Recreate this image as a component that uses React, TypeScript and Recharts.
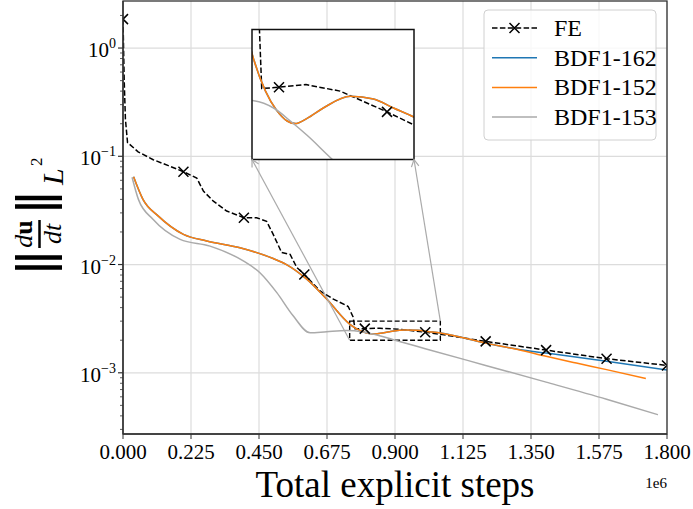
import React from "react";
import {
  LineChart,
  Line,
  XAxis,
  YAxis,
  CartesianGrid,
  ReferenceLine,
  ReferenceArea
} from "recharts";

const SERIF = '"Liberation Serif", "Times New Roman", serif';

// FE (forward Euler) residual norm vs total explicit steps
const FE_STEPS = [0, 4000, 8000, 15000, 50000, 100000, 150000, 200000, 244000, 266000, 299000, 343000, 400000, 442000, 475000, 497000, 525000, 553000, 575000, 600000, 652000, 696000, 745000, 761000, 768000, 800000, 850000, 913000, 1000000, 1050000, 1200000, 1400000, 1600000, 1800000];
const FE_NORM = [1.85, 0.5, 0.22, 0.134, 0.11, 0.093, 0.082, 0.072, 0.063, 0.0477, 0.0385, 0.0312, 0.0271, 0.0271, 0.0251, 0.019, 0.0129, 0.0124, 0.0094, 0.0081, 0.0057, 0.0048, 0.0041, 0.0033, 0.00255, 0.00256, 0.00258, 0.00253, 0.00237, 0.00227, 0.00195, 0.00162, 0.00135, 0.00117];
const FE_MARK_EVERY = 200000;

const B152_STEPS = [35000, 66000, 117000, 200000, 277000, 387000, 497000, 541000, 608000, 674000, 750000, 775000, 796000, 815000, 830000, 852000, 882000, 932000, 975000, 1012000, 1050000, 1200000, 1310000, 1400000, 1500000, 1600000, 1730000];
const B152_NORM = [0.0646, 0.04, 0.028, 0.019, 0.0165, 0.0143, 0.01136, 0.01, 0.00733, 0.0048, 0.00282, 0.00253, 0.00238, 0.0023, 0.00228, 0.00232, 0.0024, 0.00249, 0.00247, 0.0024, 0.00233, 0.00188, 0.00163, 0.00142, 0.00123, 0.00107, 0.000886];

const B162_STEPS = [35000, 66000, 117000, 200000, 277000, 387000, 497000, 541000, 608000, 674000, 750000, 775000, 796000, 815000, 830000, 852000, 882000, 932000, 975000, 1012000, 1050000, 1200000, 1310000, 1400000, 1600000, 1800000];
const B162_NORM = [0.0646, 0.04, 0.028, 0.019, 0.0165, 0.0143, 0.01136, 0.01, 0.00733, 0.0048, 0.00282, 0.00253, 0.00238, 0.0023, 0.00228, 0.00232, 0.0024, 0.00249, 0.00247, 0.0024, 0.00233, 0.00188, 0.00164, 0.00152, 0.00128, 0.00106];

const B153_STEPS = [30000, 51000, 100000, 189000, 288000, 398000, 453000, 509000, 563000, 619000, 674000, 740000, 790000, 821000, 852000, 900000, 1000000, 1200000, 1400000, 1600000, 1770000];
const B153_NORM = [0.064, 0.04, 0.0261, 0.0171, 0.0148, 0.0108, 0.0084, 0.0055, 0.00336, 0.00234, 0.0024, 0.00246, 0.0024, 0.0023, 0.00219, 0.002, 0.00167, 0.00117, 0.00082, 0.00057, 0.00041];

const X_TICKS = [0, 225000, 450000, 675000, 900000, 1125000, 1350000, 1575000, 1800000];
const Y_DECADES = [1e-4, 1e-3, 1e-2, 1e-1, 1];
const Y_MINOR_MULT = [1, 2, 3, 4, 5, 6, 7, 8, 9];
const Y_MIN = 2.72e-4;
const Y_MAX = 2.72;
const X_MAX = 1800000;

const INSET_X = [750000, 1050000];
const INSET_Y = [0.002, 0.003];

const SERIES = [
  { name: "FE", color: "#000000", steps: FE_STEPS, norm: FE_NORM, dashed: true },
  { name: "BDF1-162", color: "#1f77b4", steps: B162_STEPS, norm: B162_NORM, dashed: false },
  { name: "BDF1-152", color: "#ff7f0e", steps: B152_STEPS, norm: B152_NORM, dashed: false },
  { name: "BDF1-153", color: "#aaaaaa", steps: B153_STEPS, norm: B153_NORM, dashed: false }
];

const toRows = (steps: number[], norm: number[]) => steps.map((x, i) => ({ x, y: norm[i] }));

const Y_TICKS = Y_DECADES.flatMap((d) => Y_MINOR_MULT.map((m) => m * d)).filter(
  (v) => v >= Y_MIN && v <= Y_MAX
);

// plot box of main chart (page pixels)
const PLOT = { left: 123, top: 1, right: 667, bottom: 434 };
const xPx = (v: number) => PLOT.left + (v / X_MAX) * (PLOT.right - PLOT.left);
const yPx = (v: number) =>
  PLOT.top +
  ((Math.log10(Y_MAX) - Math.log10(v)) / (Math.log10(Y_MAX) - Math.log10(Y_MIN))) *
    (PLOT.bottom - PLOT.top);

const INSET = { left: 252, top: 29.5, width: 162, height: 130 };

const XDot = (props: any) => {
  const { cx, cy, payload, index } = props;
  if (cx == null || cy == null || payload.x % FE_MARK_EVERY !== 0) return <g key={index} />;
  const r = 5;
  return (
    <path
      key={index}
      d={`M${cx - r},${cy - r}L${cx + r},${cy + r}M${cx - r},${cy + r}L${cx + r},${cy - r}`}
      stroke="#000"
      strokeWidth={1.5}
      fill="none"
    />
  );
};

const LogTick = (props: any) => {
  const { x, y, payload } = props;
  const lg = Math.log10(payload.value);
  const exp = Math.round(lg);
  const major = Math.abs(lg - exp) < 1e-6;
  return (
    <g>
      <line x1={x - (major ? 5 : 3)} x2={x} y1={y} y2={y} stroke="#333" strokeWidth={major ? 1.2 : 0.8} />
      {major && (
        <text x={x - 7} y={y + 9} textAnchor="end" fontSize={21} fontFamily={SERIF} fill="#000">
          10
          <tspan dy={-9} fontSize={14}>
            {exp < 0 ? `\u2212${-exp}` : `${exp}`}
          </tspan>
        </text>
      )}
    </g>
  );
};

function seriesLines() {
  return SERIES.map((s) => (
    <Line
      key={s.name}
      data={toRows(s.steps, s.norm)}
      dataKey="y"
      type={s.dashed ? "linear" : "monotone"}
      stroke={s.color}
      strokeWidth={1.5}
      strokeDasharray={s.dashed ? "5.5 2.4" : undefined}
      dot={s.dashed ? XDot : false}
      activeDot={false}
      isAnimationActive={false}
      name={s.name}
    />
  ));
}

function arrowHead(tx: number, ty: number, rx: number, ry: number) {
  const len = Math.hypot(rx - tx, ry - ty);
  const ux = (rx - tx) / len;
  const uy = (ry - ty) / len;
  const a = (28 * Math.PI) / 180;
  const L = 8;
  const p = (s: number) => [
    tx + L * (ux * Math.cos(s * a) - uy * Math.sin(s * a)),
    ty + L * (ux * Math.sin(s * a) + uy * Math.cos(s * a))
  ];
  const [ax, ay] = p(1);
  const [bx, by] = p(-1);
  return `M${ax},${ay}L${tx},${ty}L${bx},${by}`;
}

export default function App() {
  const rectBL = { x: xPx(INSET_X[0]), y: yPx(INSET_Y[0]) };
  const rectTR = { x: xPx(INSET_X[1]), y: yPx(INSET_Y[1]) };
  const insBL = { x: INSET.left, y: INSET.top + INSET.height };
  const insBR = { x: INSET.left + INSET.width, y: INSET.top + INSET.height };

  return (
    <div style={{ position: "absolute", left: 0, top: 0, width: 693, height: 509, background: "#fff" }}>
      <LineChart width={693} height={509} margin={{ top: 1, right: 26, left: 0, bottom: 0 }}>
        <CartesianGrid horizontal={false} stroke="#dcdcdc" strokeWidth={1.2} />
        {Y_DECADES.filter((v) => v >= Y_MIN && v <= Y_MAX).map((v) => (
          <ReferenceLine key={v} y={v} stroke="#dcdcdc" strokeWidth={1.2} />
        ))}
        <XAxis
          dataKey="x"
          type="number"
          domain={[0, X_MAX]}
          ticks={X_TICKS}
          allowDataOverflow
          height={75}
          tickSize={5}
          tickMargin={5}
          tickFormatter={(v: number) => (v / 1e6).toFixed(3)}
          tick={{ fontSize: 21, fontFamily: SERIF, fill: "#000" }}
          tickLine={{ stroke: "#333" }}
          axisLine={{ stroke: "#333", strokeWidth: 1.3 }}
        />
        <YAxis
          type="number"
          scale="log"
          domain={[Y_MIN, Y_MAX]}
          ticks={Y_TICKS}
          allowDataOverflow
          width={123}
          tickSize={0}
          tickMargin={0}
          tickLine={false}
          tick={LogTick}
          interval={0}
          axisLine={{ stroke: "#333", strokeWidth: 1.3 }}
        />
        <ReferenceArea
          x1={INSET_X[0]}
          x2={INSET_X[1]}
          y1={INSET_Y[0]}
          y2={INSET_Y[1]}
          fill="none"
          fillOpacity={0}
          stroke="#000"
          strokeWidth={1.4}
          strokeDasharray="5 2.5"
          ifOverflow="visible"
        />
        {seriesLines()}
      </LineChart>

      <div
        style={{
          position: "absolute",
          left: INSET.left,
          top: INSET.top,
          width: INSET.width,
          height: INSET.height,
          background: "#fff"
        }}
      >
        <LineChart width={INSET.width} height={INSET.height} margin={{ top: 0, right: 0, left: 0, bottom: 0 }}>
          <XAxis dataKey="x" type="number" domain={INSET_X} allowDataOverflow hide />
          <YAxis type="number" domain={INSET_Y} allowDataOverflow hide />
          {seriesLines()}
        </LineChart>
      </div>

      <svg
        width={693}
        height={509}
        style={{ position: "absolute", left: 0, top: 0, pointerEvents: "none" }}
      >
        {/* frame */}
        <rect
          x={PLOT.left}
          y={PLOT.top}
          width={PLOT.right - PLOT.left}
          height={PLOT.bottom - PLOT.top}
          fill="none"
          stroke="#333"
          strokeWidth={1.3}
        />
        {/* inset frame */}
        <rect x={INSET.left} y={INSET.top} width={INSET.width} height={INSET.height} fill="none" stroke="#111" strokeWidth={1.5} />
        {/* connectors */}
        <g stroke="#aaaaaa" strokeWidth={1.2} fill="none">
          <line x1={insBL.x} y1={insBL.y} x2={rectBL.x} y2={rectBL.y} />
          <line x1={insBR.x} y1={insBR.y} x2={rectTR.x} y2={rectTR.y} />
          <path d={arrowHead(insBL.x, insBL.y, rectBL.x, rectBL.y)} />
          <path d={arrowHead(insBR.x, insBR.y, rectTR.x, rectTR.y)} />
        </g>

        {/* axis labels */}
        <text x={395} y={497} textAnchor="middle" fontSize={37} fontFamily={SERIF} fill="#000">
          Total explicit steps
        </text>
        <text x={667} y={488} textAnchor="end" fontSize={15} fontFamily={SERIF} fill="#000">
          1e6
        </text>
        <g transform="translate(40,210) rotate(-90)" fontFamily={SERIF} fill="#000">
          <rect x={-59.75} y={-25} width={4.5} height={47} />
          <rect x={-49.75} y={-25} width={4.5} height={47} />
          <text x={-24} y={-8} textAnchor="middle" fontSize={26}>
            <tspan fontStyle="italic">d</tspan>
            <tspan fontWeight="bold">u</tspan>
          </text>
          <rect x={-38} y={-1.75} width={28} height={2.5} />
          <text x={-24} y={21} textAnchor="middle" fontSize={26} fontStyle="italic">
            dt
          </text>
          <rect x={1.25} y={-25} width={4.5} height={47} />
          <rect x={9.75} y={-25} width={4.5} height={47} />
          <text x={25} y={23} fontSize={30} fontStyle="italic">
            L
          </text>
          <text x={44} y={1.5} fontSize={17}>
            2
          </text>
        </g>

        {/* legend */}
        <g transform="translate(484,10)">
          <rect x={0} y={0} width={172} height={130} rx={4} fill="#fff" fillOpacity={0.8} stroke="#d0d0d0" strokeWidth={1} />
          {SERIES.map((s, i) => {
            const cy = 18 + i * 29.7;
            return (
              <g key={s.name}>
                <line
                  x1={8}
                  x2={53}
                  y1={cy}
                  y2={cy}
                  stroke={s.color}
                  strokeWidth={1.5}
                  strokeDasharray={s.dashed ? "5.5 2.4" : undefined}
                />
                {s.dashed && (
                  <path d={`M${30.5 - 5},${cy - 5}L${30.5 + 5},${cy + 5}M${30.5 - 5},${cy + 5}L${30.5 + 5},${cy - 5}`} stroke="#000" strokeWidth={1.5} />
                )}
                <text x={70} y={cy + 8} fontSize={24} fontFamily={SERIF} fill="#000">
                  {s.name}
                </text>
              </g>
            );
          })}
        </g>
      </svg>
    </div>
  );
}
